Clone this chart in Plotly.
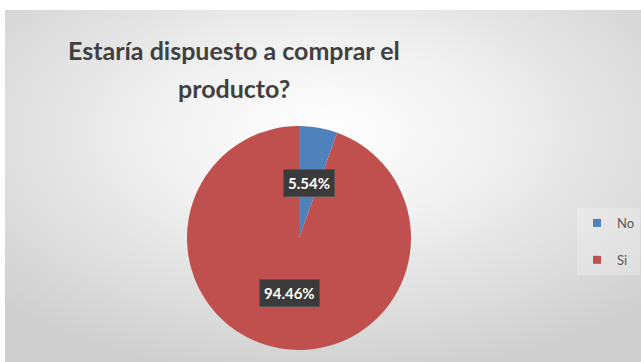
import math
import base64
import plotly.graph_objects as go

# ---- data ----
categories = ["No", "Si"]
values = [5.54, 94.46]
colors = ["#4F81BD", "#C0504D"]
title_lines = ["Estaría dispuesto a comprar el", "producto?"]

# ---- layout constants ----
W, H = 641, 362
PIE_LEFT, PIE_RIGHT, PIE_TOP, PIE_BOTTOM = 187, 411, 126, 350
cx_px = (PIE_LEFT + PIE_RIGHT) / 2
cy_px = (PIE_TOP + PIE_BOTTOM) / 2
R_px = (PIE_RIGHT - PIE_LEFT) / 2

fig = go.Figure()

fig.add_trace(go.Pie(
    labels=categories,
    values=values,
    marker=dict(colors=colors, line=dict(width=0)),
    sort=False,
    direction="clockwise",
    rotation=0,
    textinfo="none",
    hoverinfo="label+percent",
    showlegend=False,
    domain=dict(x=[PIE_LEFT / W, PIE_RIGHT / W],
                y=[1 - PIE_BOTTOM / H, 1 - PIE_TOP / H]),
))

# legend entries (square markers), one group each for spacing
for cat, col in zip(categories, colors):
    fig.add_trace(go.Scatter(
        x=[None], y=[None], mode="markers", name=cat,
        marker=dict(symbol="square", size=8, color=col),
        legendgroup=cat, showlegend=True, hoverinfo="skip",
    ))

# data labels placed at half radius along each slice's mid angle
total = sum(values)
cum = 0.0
annotations = []
for v in values:
    mid = (cum + v / 2) / total
    cum += v
    th = 2 * math.pi * mid
    px = cx_px + 0.5 * R_px * math.sin(th)
    py = cy_px - 0.5 * R_px * math.cos(th)
    annotations.append(dict(
        x=px / W, y=1 - py / H, xref="paper", yref="paper",
        text=f"{v / total * 100:.2f}%", showarrow=False,
        font=dict(family="Lato", size=15, color="white", weight="bold"),
        bgcolor="#3a3a3a", bordercolor="#555555", borderwidth=1, borderpad=4,
        xanchor="center", yanchor="middle",
    ))

# title (two lines)
for i, line in enumerate(title_lines):
    annotations.append(dict(
        x=234 / W, y=1 - (50 + 38 * i) / H, xref="paper", yref="paper",
        text=line, showarrow=False,
        font=dict(family="Lato", size=25, color="#404040", weight="bold"),
        xanchor="center", yanchor="middle",
    ))

svg = (
    f'<svg xmlns="http://www.w3.org/2000/svg" width="{W}" height="{H}">'
    '<defs><radialGradient id="g" cx="50%" cy="35%" r="70%">'
    '<stop offset="0" stop-color="#ffffff"/>'
    '<stop offset="0.35" stop-color="#f2f2f2"/>'
    '<stop offset="1" stop-color="#cfcfcf"/>'
    '</radialGradient></defs>'
    '<rect width="100%" height="100%" fill="url(#g)"/></svg>'
)
bg_src = "data:image/svg+xml;base64," + base64.b64encode(svg.encode()).decode()

fig.update_layout(
    width=W, height=H,
    margin=dict(l=0, r=0, t=0, b=0),
    paper_bgcolor="white",
    plot_bgcolor="rgba(0,0,0,0)",
    xaxis=dict(visible=False), yaxis=dict(visible=False),
    annotations=annotations,
    images=[dict(source=bg_src, xref="paper", yref="paper",
                 x=5 / W, y=1 - 10 / H, sizex=1 - 5 / W, sizey=1 - 10 / H,
                 xanchor="left", yanchor="top", sizing="stretch", layer="below")],
    legend=dict(
        x=577 / W, y=1 - 208 / H, xanchor="left", yanchor="top",
        font=dict(family="Lato", size=13, color="#595959"),
        bgcolor="rgba(255,255,255,0.25)",
        tracegroupgap=17, itemwidth=30,
    ),
    showlegend=True,
)

fig.write_html("out.html")
